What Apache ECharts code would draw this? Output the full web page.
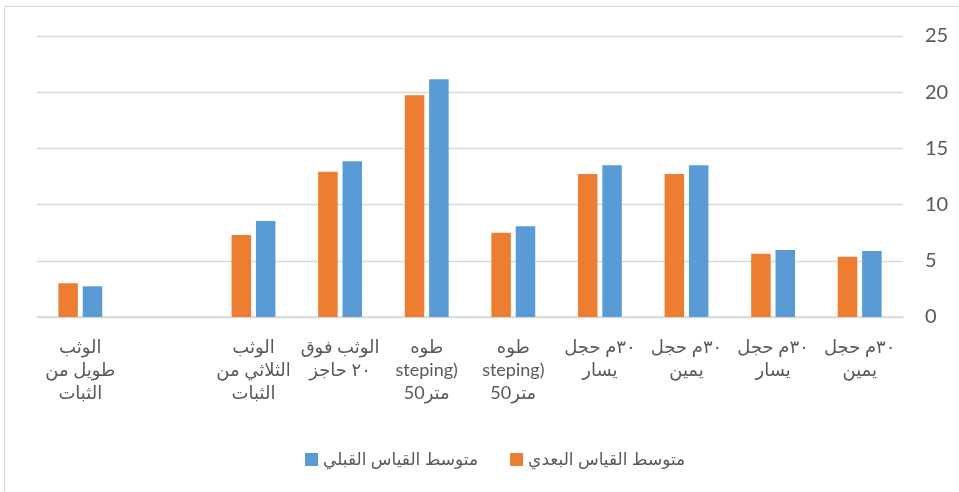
<!DOCTYPE html>
<html>
<head>
<meta charset="utf-8">
<script src="https://cdn.jsdelivr.net/npm/echarts@6/dist/echarts.min.js"></script>
<style>
  html, body { margin: 0; padding: 0; background: #fff; }
  #chart { width: 959px; height: 492px; }
</style>
</head>
<body>
<div id="chart"></div>
<script>
// categories, first one is drawn at the right (axis is inverted)
const categories = [
  '٣٠م حجل\nيمين',
  '٣٠م حجل\nيسار',
  '٣٠م حجل\nيمين',
  '٣٠م حجل\nيسار',
  'طوه\nsteping)\nمتر50',
  'طوه\nsteping)\nمتر50',
  'الوثب فوق\n٢٠ حاجز',
  'الوثب\nالثلاثي من\nالثبات',
  '',
  'الوثب\nطويل من\nالثبات',
]
const postName = 'متوسط القياس البعدي'
const preName = 'متوسط القياس القبلي'
const postValues = [5.37, 5.63, 12.72, 12.72, 7.5, 19.72, 12.93, 7.3, null, 3.0]
const preValues = [5.87, 5.96, 13.5, 13.5, 8.07, 21.15, 13.85, 8.54, null, 2.73]
const yTicks = { min: 0, max: 25, interval: 5 }

const textColor = '#595959'
const gridColor = '#d9d9d9'
const fontFamily = 'Lato, "DejaVu Sans", sans-serif'

const chart = echarts.init(document.getElementById('chart'))
chart.setOption({
  animation: false,
  textStyle: { fontFamily },
  // outer frame of the chart area
  graphic: [
    {
      type: 'rect',
      shape: { x: 4.5, y: 6.5, width: 1000, height: 1000 },
      style: { fill: 'none', stroke: gridColor, lineWidth: 1 },
      silent: true,
    },
  ],
  grid: { left: 37, right: 56, top: 36, bottom: 175 },
  legend: {
    data: [preName, postName],
    bottom: 19,
    left: 300,
    itemWidth: 13,
    itemHeight: 13,
    itemGap: 32,
    icon: 'rect',
    textStyle: { color: textColor, fontSize: 17, fontFamily },
  },
  xAxis: {
    type: 'category',
    data: categories,
    inverse: true,
    axisLine: { lineStyle: { color: gridColor, width: 1.5 } },
    axisTick: { show: false },
    axisLabel: {
      interval: 0,
      color: textColor,
      fontSize: 18,
      lineHeight: 23,
      margin: 19,
      fontFamily,
    },
  },
  yAxis: {
    type: 'value',
    position: 'right',
    ...yTicks,
    axisLine: { show: false },
    axisTick: { show: false },
    axisLabel: { color: textColor, fontSize: 20, margin: 22, fontFamily },
    splitLine: { lineStyle: { color: gridColor, width: 1.3 } },
  },
  series: [
    {
      name: postName,
      type: 'bar',
      data: postValues,
      barWidth: 19.5,
      barGap: '25%',
      itemStyle: { color: '#ED7D31' },
    },
    {
      name: preName,
      type: 'bar',
      data: preValues,
      barWidth: 19.5,
      barGap: '25%',
      itemStyle: { color: '#5B9BD5' },
    },
  ],
})
</script>
</body>
</html>
